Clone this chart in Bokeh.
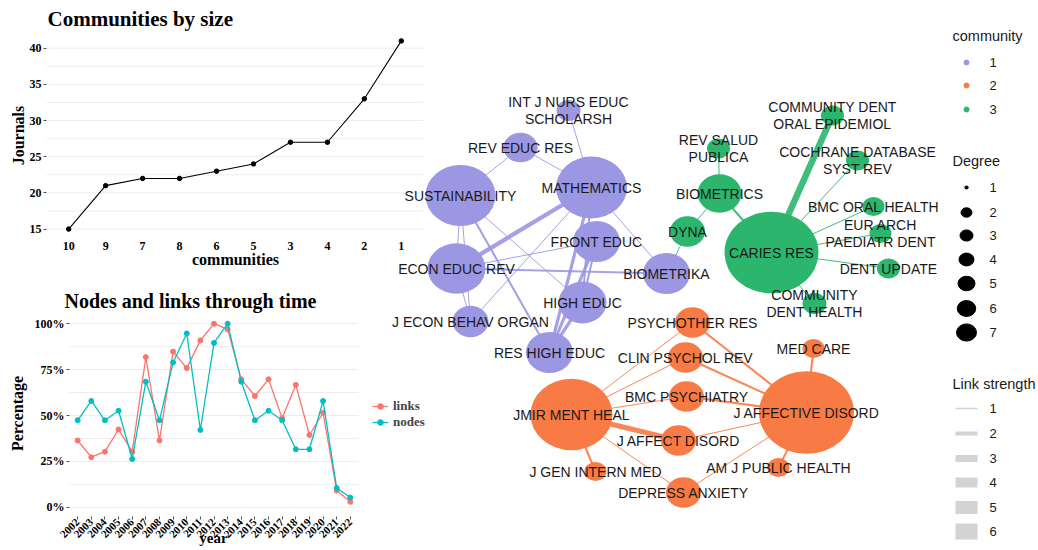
import math
from bokeh.plotting import figure
from bokeh.models import Range1d, FixedTicker, Legend, LegendItem, ColumnDataSource, LinearAxis
from bokeh.embed import file_html
from bokeh.resources import INLINE
from bokeh.core.properties import value

# ---------------- data ----------------
community_order = ["10", "9", "7", "8", "6", "5", "3", "4", "2", "1"]
community_journals = [15, 21, 22, 22, 23, 24, 27, 27, 33, 41]

years = list(range(2002, 2023))
links_pct = [0.364, 0.273, 0.303, 0.424, 0.303, 0.818, 0.364, 0.848, 0.758, 0.909, 1.0,
             0.970, 0.697, 0.606, 0.697, 0.485, 0.667, 0.394, 0.515, 0.091, 0.030]
nodes_pct = [0.474, 0.579, 0.474, 0.526, 0.263, 0.684, 0.474, 0.789, 0.947, 0.421, 0.895,
             1.0, 0.684, 0.474, 0.526, 0.474, 0.316, 0.316, 0.579, 0.105, 0.053]
pct_ticks = [0, 0.25, 0.5, 0.75, 1.0]
pct_labels = ["0%", "25%", "50%", "75%", "100%"]
journal_ticks = [15, 20, 25, 30, 35, 40]

node_ids = ["INT J NURS EDUC SCHOLARSH", "REV EDUC RES", "SUSTAINABILITY", "MATHEMATICS",
            "ECON EDUC REV", "FRONT EDUC", "HIGH EDUC", "BIOMETRIKA", "J ECON BEHAV ORGAN",
            "RES HIGH EDUC",
            "COMMUNITY DENT ORAL EPIDEMIOL", "REV SALUD PUBLICA", "BIOMETRICS", "DYNA",
            "CARIES RES", "COCHRANE DATABASE SYST REV", "BMC ORAL HEALTH",
            "EUR ARCH PAEDIATR DENT", "DENT UPDATE", "COMMUNITY DENT HEALTH",
            "PSYCHOTHER RES", "CLIN PSYCHOL REV", "BMC PSYCHIATRY", "JMIR MENT HEAL",
            "J AFFECTIVE DISORD", "MED CARE", "J AFFECT DISORD", "J GEN INTERN MED",
            "AM J PUBLIC HEALTH", "DEPRESS ANXIETY"]
node_labels = ["INT J NURS EDUC\nSCHOLARSH", "REV EDUC RES", "SUSTAINABILITY", "MATHEMATICS",
               "ECON EDUC REV", "FRONT EDUC", "HIGH EDUC", "BIOMETRIKA", "J ECON BEHAV ORGAN",
               "RES HIGH EDUC",
               "COMMUNITY DENT\nORAL EPIDEMIOL", "REV SALUD\nPUBLICA", "BIOMETRICS", "DYNA",
               "CARIES RES", "COCHRANE DATABASE\nSYST REV", "BMC ORAL HEALTH",
               "EUR ARCH\nPAEDIATR DENT", "DENT UPDATE", "COMMUNITY\nDENT HEALTH",
               "PSYCHOTHER RES", "CLIN PSYCHOL REV", "BMC PSYCHIATRY", "JMIR MENT HEAL",
               "J AFFECTIVE DISORD", "MED CARE", "J AFFECT DISORD", "J GEN INTERN MED",
               "AM J PUBLIC HEALTH", "DEPRESS ANXIETY"]
node_community = [1] * 10 + [3] * 10 + [2] * 10
# layout coordinates of the network
node_x = [568, 520, 460, 591, 456, 596, 582, 666, 470, 549,
          832, 718, 719, 687, 771, 857, 873, 880, 888, 814,
          692, 685, 686, 571, 806, 813, 678, 595, 778, 683]
node_y = [110, 147, 195, 187, 268, 241, 302, 273, 321, 352,
          115, 148, 193, 231, 252, 160, 206, 233, 268, 303,
          322, 357, 396, 414, 412, 348, 440, 471, 467, 492]
node_weight = [24, 34, 70, 71, 58, 47, 48, 47, 36, 47,
               23, 23, 44, 35, 94, 23, 22, 22, 23, 24,
               35, 35, 35, 82, 95, 22, 35, 22, 22, 35]

edge_from = ["MATHEMATICS", "REV EDUC RES", "REV EDUC RES", "SUSTAINABILITY", "SUSTAINABILITY",
             "SUSTAINABILITY", "SUSTAINABILITY", "MATHEMATICS", "MATHEMATICS", "MATHEMATICS",
             "MATHEMATICS", "MATHEMATICS", "ECON EDUC REV", "ECON EDUC REV", "ECON EDUC REV",
             "FRONT EDUC", "FRONT EDUC", "HIGH EDUC", "BIOMETRIKA",
             "REV SALUD PUBLICA", "BIOMETRICS", "BIOMETRICS", "CARIES RES", "CARIES RES",
             "CARIES RES", "CARIES RES", "CARIES RES", "CARIES RES",
             "JMIR MENT HEAL", "JMIR MENT HEAL", "JMIR MENT HEAL", "JMIR MENT HEAL",
             "JMIR MENT HEAL", "JMIR MENT HEAL", "J AFFECTIVE DISORD", "J AFFECTIVE DISORD",
             "J AFFECTIVE DISORD", "J AFFECTIVE DISORD", "J AFFECTIVE DISORD",
             "J AFFECTIVE DISORD", "J AFFECTIVE DISORD"]
edge_to = ["INT J NURS EDUC SCHOLARSH", "SUSTAINABILITY", "MATHEMATICS", "ECON EDUC REV",
           "J ECON BEHAV ORGAN", "RES HIGH EDUC", "HIGH EDUC", "ECON EDUC REV",
           "J ECON BEHAV ORGAN", "BIOMETRIKA", "RES HIGH EDUC", "HIGH EDUC", "FRONT EDUC",
           "BIOMETRIKA", "J ECON BEHAV ORGAN", "HIGH EDUC", "RES HIGH EDUC", "RES HIGH EDUC",
           "DYNA",
           "BIOMETRICS", "DYNA", "CARIES RES", "COMMUNITY DENT ORAL EPIDEMIOL",
           "COCHRANE DATABASE SYST REV", "BMC ORAL HEALTH", "EUR ARCH PAEDIATR DENT",
           "DENT UPDATE", "COMMUNITY DENT HEALTH",
           "PSYCHOTHER RES", "CLIN PSYCHOL REV", "BMC PSYCHIATRY", "J AFFECT DISORD",
           "J GEN INTERN MED", "DEPRESS ANXIETY", "PSYCHOTHER RES", "CLIN PSYCHOL REV",
           "BMC PSYCHIATRY", "J AFFECT DISORD", "MED CARE", "AM J PUBLIC HEALTH",
           "DEPRESS ANXIETY"]
edge_strength = [1, 1, 1, 1, 1, 2, 1, 4, 1, 1, 3, 2, 1, 2, 1, 2, 3, 3, 1,
                 1, 1, 2, 6, 1, 1, 1, 1, 1,
                 1, 1, 1, 5, 2, 1, 2, 2, 2, 1, 2, 2, 1]

community_levels = ["1", "2", "3"]
degree_levels = ["1", "2", "3", "4", "5", "6", "7"]
strength_levels = ["1", "2", "3", "4", "5", "6"]

# ---------------- styles ----------------
SERIF = "Liberation Serif"
SANS = "Liberation Sans"
COMM_COLORS = {1: "#9C97E2", 2: "#F87A45", 3: "#2BB56D"}
GRID = "#EDEDED"
W, H = 1036, 548

# one canvas; page pixel coordinates on the default ranges
p = figure(width=W, height=H, x_range=Range1d(0, W), y_range=Range1d(H, 0),
           x_axis_type=None, y_axis_type=None, output_backend="svg",
           toolbar_location=None, min_border=0)
p.outline_line_color = None
p.grid.grid_line_color = None


def rng(v0, v1, p0, p1, total):
    k = (v1 - v0) / (p1 - p0)
    return Range1d(start=v0 - k * p0, end=v0 + k * (total - p0))


# panel areas of the two small charts (pixels)
p.extra_x_ranges = {"c1x": rng(0.4, 10.6, 46, 423, W),
                    "c2x": rng(2001.4, 2022.6, 69, 358, W)}
p.extra_y_ranges = {"c1y": rng(13.7, 42.3, H - 238, H - 31, H),
                    "c2y": rng(-0.05, 1.05, H - 516, H - 314, H)}
R1 = dict(x_range_name="c1x", y_range_name="c1y")
R2 = dict(x_range_name="c2x", y_range_name="c2y")


def style_axis(ax, font="12px"):
    ax.axis_line_color = None
    ax.major_label_text_font = SERIF
    ax.major_label_text_font_style = "bold"
    ax.major_label_text_font_size = font
    ax.major_label_text_color = "black"
    ax.minor_tick_line_color = None
    ax.major_tick_in = 0
    ax.major_tick_out = 3
    ax.major_tick_line_color = "#555555"
    ax.major_label_standoff = 2


title_style = dict(text_font=value(SERIF), text_font_style="bold", text_color="black",
                   text_baseline="middle")

# ---------------- top-left: communities by size ----------------
xs = list(range(1, len(community_order) + 1))
g1 = [15 + 2.5 * i for i in range(11)]
p.segment(x0=[0.4] * len(g1), x1=[10.6] * len(g1), y0=g1, y1=g1, line_color=GRID,
          line_width=1, **R1)
p.line(xs, community_journals, line_color="black", line_width=1.1, **R1)
p.scatter(xs, community_journals, size=4.5, color="black", **R1)
ax = LinearAxis(fixed_location=13.7, ticker=FixedTicker(ticks=xs), **R1)
ax.major_label_overrides = {x: lab for x, lab in zip(xs, community_order)}
style_axis(ax)
ax.major_tick_line_color = None
ax.major_label_standoff = 0
p.add_layout(ax, "below")
ay = LinearAxis(fixed_location=0.4, ticker=FixedTicker(ticks=journal_ticks), **R1)
style_axis(ay)
p.add_layout(ay, "left")
p.text(x=[47], y=[18], text=["Communities by size"], text_font_size="21px", **title_style)
p.text(x=[235], y=[259], text=["communities"], text_font_size="16px", text_align="center",
       **title_style)
p.text(x=[18], y=[135], text=["Journals"], text_font_size="16px", text_align="center",
       angle=math.pi / 2, **title_style)

# ---------------- bottom-left: nodes and links through time ----------------
g2 = [0.125 * i for i in range(9)]
p.segment(x0=[2001.4] * len(g2), x1=[2022.6] * len(g2), y0=g2, y1=g2, line_color=GRID,
          line_width=1, **R2)
l1 = p.line(years, links_pct, line_color="#F8766D", line_width=1.3, **R2)
s1 = p.scatter(years, links_pct, size=5, color="#F8766D", **R2)
l2 = p.line(years, nodes_pct, line_color="#00BFC4", line_width=1.3, **R2)
s2 = p.scatter(years, nodes_pct, size=5, color="#00BFC4", **R2)
bx = LinearAxis(fixed_location=-0.05, ticker=FixedTicker(ticks=years), **R2)
style_axis(bx, "11px")
bx.major_label_orientation = math.pi / 4
bx.major_label_standoff = 1
p.add_layout(bx, "below")
by = LinearAxis(fixed_location=2001.4, ticker=FixedTicker(ticks=pct_ticks), **R2)
by.major_label_overrides = {t: lab for t, lab in zip(pct_ticks, pct_labels)}
style_axis(by)
p.add_layout(by, "left")
p.text(x=[64], y=[300], text=["Nodes and links through time"], text_font_size="20px",
       **title_style)
p.text(x=[213], y=[537], text=["year"], text_font_size="15px", text_align="center",
       **title_style)
p.text(x=[17], y=[413], text=["Percentage"], text_font_size="16px", text_align="center",
       angle=math.pi / 2, **title_style)
leg = Legend(items=[LegendItem(label="links", renderers=[l1, s1]),
                    LegendItem(label="nodes", renderers=[l2, s2])],
             location=(372, H - 430))
leg.label_text_font = SERIF
leg.label_text_font_style = "bold"
leg.label_text_font_size = "13px"
leg.glyph_width = 16
leg.glyph_height = 14
leg.label_height = 14
leg.spacing = 0
leg.padding = 0
leg.margin = 0
leg.label_standoff = 5
leg.border_line_color = None
leg.background_fill_alpha = 0
p.add_layout(leg)

# ---------------- right: network ----------------


def blend(c1, c2):
    a = [int(c1[i:i + 2], 16) for i in (1, 3, 5)]
    b = [int(c2[i:i + 2], 16) for i in (1, 3, 5)]
    return "#%02x%02x%02x" % tuple((u + v) // 2 for u, v in zip(a, b))


idx = {n: i for i, n in enumerate(node_ids)}
ex0, ey0, ex1, ey1, ew, ec = [], [], [], [], [], []
for s, t, w in zip(edge_from, edge_to, edge_strength):
    i, j = idx[s], idx[t]
    ex0.append(node_x[i]); ey0.append(node_y[i])
    ex1.append(node_x[j]); ey1.append(node_y[j])
    ew.append(1.1 * w - 0.1)
    ci, cj = COMM_COLORS[node_community[i]], COMM_COLORS[node_community[j]]
    ec.append(ci if ci == cj else blend(ci, cj))
p.segment(x0="x0", y0="y0", x1="x1", y1="y1", line_width="w", line_color="c", line_alpha=0.9,
          source=ColumnDataSource(dict(x0=ex0, y0=ey0, x1=ex1, y1=ey1, w=ew, c=ec)))

nsrc = ColumnDataSource(dict(x=node_x, y=node_y, w=node_weight,
                             h=[v * 0.87 for v in node_weight],
                             c=[COMM_COLORS[k] for k in node_community],
                             lab=node_labels))
p.ellipse(x="x", y="y", width="w", height="h", fill_color="c", line_color=None, source=nsrc)
p.text(x="x", y="y", text="lab", source=nsrc, text_align="center", text_baseline="middle",
       text_font=value(SANS), text_font_size="14px", text_color="#1a1a1a",
       text_line_height=1.1)

# legends of the network
LX_KEY, LX_LAB, LX_TITLE = 966, 989, 952
txt = dict(text_font=value(SANS), text_color="#1a1a1a", text_baseline="middle")
p.text(x=[LX_TITLE], y=[35], text=["community"], text_font_size="14.5px", **txt)
cy = [62, 85, 109]
p.scatter(x=[LX_KEY] * 3, y=cy, size=5, color=[COMM_COLORS[int(k)] for k in community_levels])
p.text(x=[LX_LAB] * 3, y=cy, text=community_levels, text_font_size="13px", **txt)

p.text(x=[LX_TITLE], y=[160], text=["Degree"], text_font_size="14.5px", **txt)
dy = [187, 212, 235, 259, 283, 308, 332]
dw = [3.5, 11, 13, 15, 17, 18.5, 20]
p.ellipse(x=[LX_KEY] * 7, y=dy, width=dw, height=[v * 0.86 for v in dw], color="black")
p.text(x=[LX_LAB] * 7, y=dy, text=degree_levels, text_font_size="13px", **txt)

p.text(x=[LX_TITLE], y=[383], text=["Link strength"], text_font_size="14.5px", **txt)
sy = [408, 433, 458, 482, 507, 531]
sh = [1.5, 4, 7, 10, 13, 16]
p.rect(x=[LX_KEY] * 6, y=sy, width=22, height=sh, color="#D3D3D3", line_color=None)
p.text(x=[LX_LAB] * 6, y=sy, text=strength_levels, text_font_size="13px", **txt)

open("out.html", "w").write(file_html(p, INLINE))
